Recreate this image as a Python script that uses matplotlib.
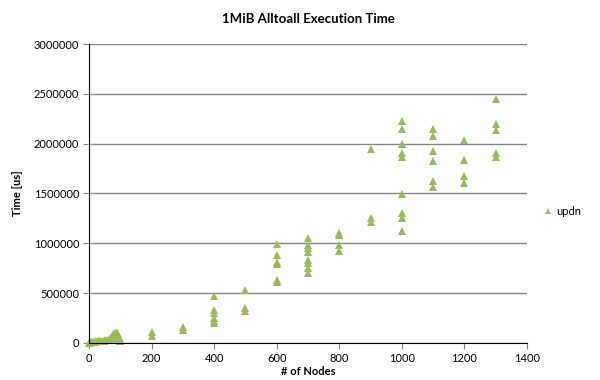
import numpy as np
import matplotlib.pyplot as plt
from matplotlib.ticker import FormatStrFormatter

plt.rcParams['font.family'] = ['Lato', 'DejaVu Sans']

# small runs (1-100 nodes)
small_nodes = [1, 2, 4, 6, 8, 10, 12, 16, 20, 24, 28, 32, 36, 40, 44, 48, 52, 56, 60, 64,
               66, 68, 70, 72, 74, 76, 78, 80, 82, 84, 86, 88, 90, 92, 94, 96, 98, 100,
               70, 76, 80, 84, 88, 92, 96, 100, 80, 88, 96]
small_time = [3000, 4000, 5000, 6000, 7000, 8000, 9000, 11000, 13000, 15000, 16000, 18000,
              19000, 21000, 22000, 24000, 26000, 28000, 30000, 33000,
              38000, 45000, 52000, 60000, 68000, 72000, 80000, 85000, 90000, 95000, 98000,
              100000, 96000, 88000, 75000, 60000, 45000, 30000,
              40000, 55000, 65000, 70000, 82000, 70000, 50000, 20000, 100000, 60000, 35000]

# larger runs
big_nodes = [200, 200,
             300, 300,
             400, 400, 400, 400, 400, 400,
             500, 500, 500,
             600, 600, 600, 600, 600, 600,
             700, 700, 700, 700, 700, 700, 700, 700,
             800, 800, 800, 800,
             900, 900, 900,
             1000, 1000, 1000, 1000, 1000, 1000, 1000, 1000, 1000,
             1100, 1100, 1100, 1100, 1100, 1100,
             1200, 1200, 1200, 1200,
             1300, 1300, 1300, 1300, 1300]
big_time = [110000, 75000,
            160000, 135000,
            470000, 330000, 300000, 250000, 225000, 205000,
            535000, 350000, 325000,
            995000, 880000, 815000, 790000, 630000, 615000,
            1055000, 985000, 950000, 915000, 835000, 800000, 750000, 700000,
            1100000, 1080000, 985000, 925000,
            1945000, 1250000, 1215000,
            2230000, 2145000, 1995000, 1905000, 1865000, 1490000, 1305000, 1250000, 1125000,
            2150000, 2080000, 1930000, 1830000, 1630000, 1570000,
            2035000, 1835000, 1675000, 1610000,
            2450000, 2195000, 2140000, 1905000, 1865000]

nodes = small_nodes + big_nodes
times = small_time + big_time

fig = plt.figure(figsize=(6, 3.8), dpi=100)
ax = fig.add_axes([0.1483, 0.0974, 0.73, 0.7868])

ax.plot(nodes, times, linestyle='none', marker='^', markersize=6,
        color='#9BBB59', markeredgewidth=0, label='updn', clip_on=False)

ax.set_xlim(0, 1400)
ax.set_ylim(0, 3000000)
ax.set_xticks(np.arange(0, 1401, 200))
ax.set_yticks(np.arange(0, 3000001, 500000))
ax.yaxis.set_major_formatter(FormatStrFormatter('%d'))
ax.yaxis.grid(True, color='#868686', linewidth=1)
ax.set_axisbelow(True)

for side in ['top', 'right']:
    ax.spines[side].set_visible(False)
ax.spines['left'].set_color('black')
ax.spines['bottom'].set_color('black')
ax.tick_params(axis='both', labelsize=8, length=4, color='#868686', pad=3)

ax.set_title('1MiB Alltoall Execution Time', fontsize=9.5, fontweight='bold', pad=15)
ax.set_ylabel('Time [us]', fontsize=8, fontweight='bold', labelpad=8)
ax.set_xlabel('# of Nodes', fontsize=8, fontweight='bold', labelpad=2)

ax.legend(loc='center left', bbox_to_anchor=(1.01, 0.44), frameon=False,
          fontsize=8, handletextpad=0.1, markerscale=0.8, handlelength=1.2)

fig.savefig('out.png', dpi=100)
